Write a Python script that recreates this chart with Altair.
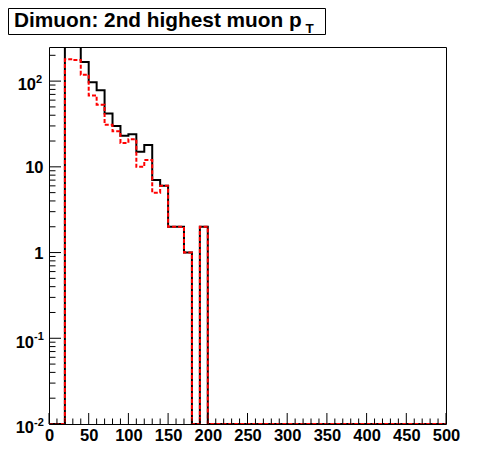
import altair as alt
import pandas as pd

# ---- data ----
bin_width = 10
bin_lo = list(range(0, 500, 10))
black_counts = [0, 0, 250, 250, 167, 97, 78, 42, 30, 23, 24, 15, 18, 7, 6, 2, 2, 1, 0, 2] + [0] * 30
red_counts = [0, 0, 180, 176, 119, 68, 53, 31, 26, 19, 21, 10, 12, 5, 6, 2, 2, 1, 0, 2] + [0] * 30

x_ticks_major = list(range(0, 501, 50))
x_ticks_minor = [v for v in range(0, 501, 10) if v % 50 != 0]
y_ticks_major = [0.01, 0.1, 1, 10, 100]
y_ticks_minor = [m * d for d in [0.01, 0.1, 1, 10, 100] for m in range(2, 10) if m * d < 250]

YMIN, YMAX = 0.01, 250
W, H = 397, 377
FONT = "Liberation Sans"


def step_frame(counts, name):
    xs = bin_lo + [bin_lo[-1] + bin_width]
    vs = counts + [counts[-1]]
    return pd.DataFrame({"x": xs, "v": vs, "s": name})


xscale = alt.Scale(domain=[0, 500], nice=False, zero=False)
yscale = alt.Scale(type="log", domain=[YMIN, YMAX], nice=False)
xaxis = alt.Axis(values=x_ticks_major, ticks=False, domain=False, grid=False,
                 labelFont=FONT, labelFontWeight="bold", labelFontSize=16.5,
                 labelColor="black", labelPadding=3, labelFlush=False,
                 labelOverlap=False, labelBound=False, title=None, format="d")


def X(field):
    return alt.X(field, scale=xscale, axis=xaxis, title=None)


def Y(field):
    return alt.Y(field, scale=yscale, axis=None, title=None)


black = (
    alt.Chart(step_frame(black_counts, "black"))
    .transform_calculate(vv=f"max(datum.v, {YMIN})")
    .mark_line(interpolate="step-after", color="black", strokeWidth=2, clip=True)
    .encode(x=X("x:Q"), y=Y("vv:Q"))
)

red = (
    alt.Chart(step_frame(red_counts, "red"))
    .transform_calculate(vv=f"max(datum.v, {YMIN})")
    .mark_line(interpolate="step-after", color="#ff0000", strokeWidth=2,
               strokeDash=[4, 2], clip=True)
    .encode(x=X("x:Q"), y=Y("vv:Q"))
)

xmaj = alt.Chart(pd.DataFrame({"t": x_ticks_major})).mark_rule(color="black", strokeWidth=1).encode(
    x=X("t:Q"), y=alt.value(H), y2=alt.value(H - 11))
xmin = alt.Chart(pd.DataFrame({"t": x_ticks_minor})).mark_rule(color="black", strokeWidth=1).encode(
    x=X("t:Q"), y=alt.value(H), y2=alt.value(H - 5.5))
ymaj = alt.Chart(pd.DataFrame({"t": y_ticks_major})).mark_rule(color="black", strokeWidth=1).encode(
    y=Y("t:Q"), x=alt.value(0), x2=alt.value(12))
ymin = alt.Chart(pd.DataFrame({"t": y_ticks_minor})).mark_rule(color="black", strokeWidth=1).encode(
    y=Y("t:Q"), x=alt.value(0), x2=alt.value(6.5))

# y labels
plain = pd.DataFrame({"t": [10, 1], "lab": ["10", "1"]})
pos_exp = pd.DataFrame({"t": [100], "base": ["10"], "exp": ["2"]})
neg_exp = pd.DataFrame({"t": [0.1, 0.01], "base": ["10", "10"], "exp": ["-1", "-2"]})

lab_plain = alt.Chart(plain).mark_text(
    font=FONT, fontWeight="bold", fontSize=16.5, align="right", baseline="alphabetic",
    dx=-5.5, dy=6, color="black").encode(y=Y("t:Q"), x=alt.value(0), text="lab:N")


def exp_layers(df, base_right, dy_base):
    b = alt.Chart(df).mark_text(
        font=FONT, fontWeight="bold", fontSize=16.5, align="right", baseline="alphabetic",
        dx=base_right, dy=dy_base, color="black").encode(
        y=Y("t:Q"), x=alt.value(0), text="base:N")
    e = alt.Chart(df).mark_text(
        font=FONT, fontWeight="bold", fontSize=11, align="left", baseline="alphabetic",
        dx=base_right, dy=1.5, color="black").encode(
        y=Y("t:Q"), x=alt.value(0), text="exp:N")
    return [b, e]


title_df = pd.DataFrame({"a": [0]})
title_box = alt.Chart(title_df).mark_rect(fill="white", stroke="black", strokeWidth=1).encode(
    x=alt.value(-40.5), x2=alt.value(276.5), y=alt.value(-38.5), y2=alt.value(-12.5))
title_txt = alt.Chart(pd.DataFrame({"s": ["Dimuon: 2nd highest muon p"]})).mark_text(
    font=FONT, fontWeight="bold", fontSize=20.8, align="left", baseline="alphabetic",
    color="black").encode(x=alt.value(-35), y=alt.value(-20.3), text="s:N")
title_sub = alt.Chart(pd.DataFrame({"s": ["T"]})).mark_text(
    font=FONT, fontWeight="bold", fontSize=13.5, align="left", baseline="alphabetic",
    color="black").encode(x=alt.value(256.5), y=alt.value(-14), text="s:N")

chart = alt.layer(
    black, red, xmaj, xmin, ymaj, ymin, lab_plain,
    *exp_layers(pos_exp, -13, 8.8), *exp_layers(neg_exp, -15, 9.3),
    title_box, title_txt, title_sub,
).properties(
    width=W, height=H,
    autosize=alt.AutoSizeParams(type="none"),
    padding={"left": 41, "top": 39, "right": 30, "bottom": 38},
    background="white",
).configure_view(stroke="black", strokeWidth=1)

chart.save("out.html", embed_options={"renderer": "svg", "actions": False})
